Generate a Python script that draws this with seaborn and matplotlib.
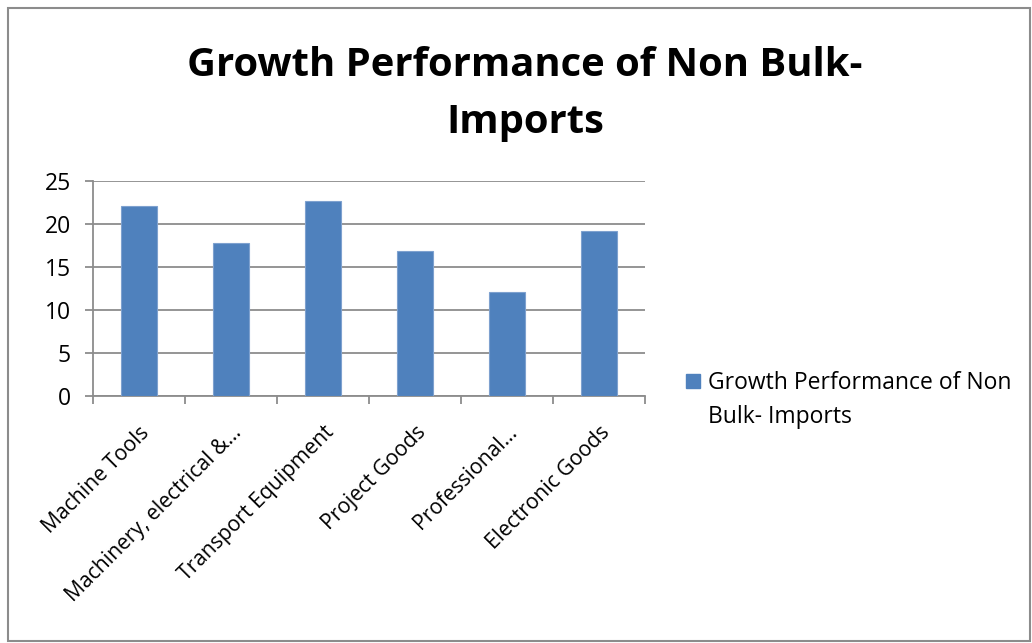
import matplotlib
matplotlib.use("Agg")
import matplotlib.pyplot as plt
import seaborn as sns
import pandas as pd
from matplotlib.patches import Patch, Rectangle

categories = ["Machine Tools", "Machinery, electrical &\u2026", "Transport Equipment",
              "Project Goods", "Professional\u2026", "Electronic Goods"]
values = [22.0, 17.8, 22.6, 16.8, 12.1, 19.1]
series_name = "Growth Performance of Non Bulk- Imports"
legend_lines = ["Growth Performance of Non", "Bulk- Imports"]
yticks = [0, 5, 10, 15, 20, 25]

sns.set_theme(style="white")
plt.rcParams['font.family'] = ['Open Sans', 'DejaVu Sans']
plt.rcParams['text.color'] = 'black'
plt.rcParams['xtick.color'] = 'black'
plt.rcParams['ytick.color'] = 'black'

df = pd.DataFrame({"Category": categories, "Value": values})

fig = plt.figure(figsize=(10.32, 6.43), dpi=100)
ax = fig.add_axes([93/1032, 1 - 395.7/643, (645 - 93)/1032, (395.7 - 180.7)/643])

bar_color = "#4F81BD"
sns.barplot(data=df, x="Category", y="Value", color=bar_color, width=0.4,
            saturation=1, edgecolor="#7EA1CF", linewidth=0.8, ax=ax, zorder=3)

grid_c = "#8C8C8C"
ax.set_ylim(0, 25)
ax.set_xlim(-0.5, 5.5)
ax.set_yticks(yticks)
ax.set_yticklabels([str(t) for t in yticks], fontsize=16.5, color="#000000")
ax.yaxis.grid(True, color=grid_c, linewidth=1.3, zorder=0)
ax.set_axisbelow(True)
ax.set_xlabel("")
ax.set_ylabel("")
for s in ["top", "right"]:
    ax.spines[s].set_visible(False)
for s in ["left", "bottom"]:
    ax.spines[s].set_color(grid_c)
    ax.spines[s].set_linewidth(1.3)
ax.tick_params(axis="y", length=6, width=1.3, color=grid_c, labelcolor="black",
               direction="out", pad=10, left=True)

ax.set_xticks(range(len(categories)))
ax.set_xticklabels(categories, rotation=45, ha="right", rotation_mode="anchor",
                   fontsize=15.2, color="black")
ax.tick_params(axis="x", which="major", length=0, pad=19)
ax.set_xticks([i - 0.5 for i in range(len(categories) + 1)], minor=True)
ax.tick_params(axis="x", which="minor", length=6, width=1.3, color=grid_c, direction="out", bottom=True)

fig.text(525/1032, 1 - 65/643, "Growth Performance of Non Bulk-", ha="center", va="center",
         fontsize=28.8, fontweight="bold", color="black")
fig.text(525/1032, 1 - 122/643, "Imports", ha="center", va="center",
         fontsize=28.8, fontweight="bold", color="black")

handles = [Patch(facecolor=bar_color, edgecolor=bar_color),
           Patch(facecolor="none", edgecolor="none")]
leg = fig.legend(handles, legend_lines, loc="upper left",
                 bbox_to_anchor=(686/1032, 1 - 371/643), frameon=False, fontsize=16.5,
                 handlelength=0.6, handleheight=0.6, handletextpad=0.35, labelspacing=0.45,
                 borderpad=0, borderaxespad=0)
for t in leg.get_texts():
    t.set_color("black")

fig.patches.append(Rectangle((8/1032, 2/643), 1 - 10/1032, 1 - 10/643, transform=fig.transFigure,
                             fill=False, edgecolor="#8C8C8C", linewidth=1.5))

fig.savefig("out.png", dpi=100, facecolor="white")
